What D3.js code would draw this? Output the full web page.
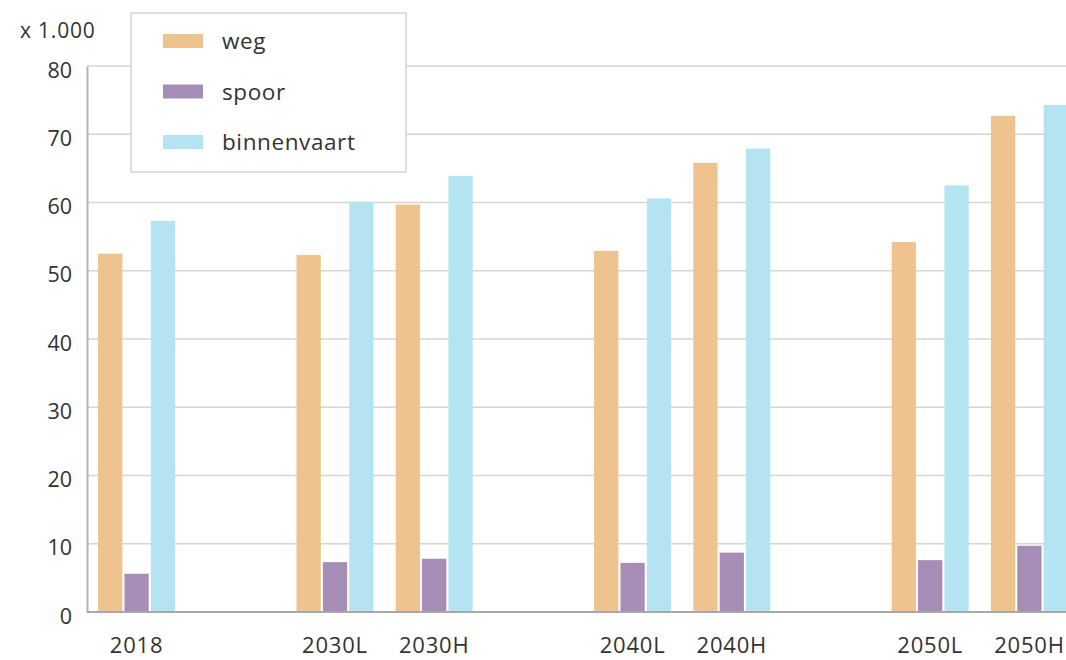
<!DOCTYPE html>
<html>
<head>
<meta charset="utf-8">
<script src="https://cdn.jsdelivr.net/npm/d3@7"></script>
<style>
  html, body { margin: 0; padding: 0; background: #fff; }
  svg { display: block; font-family: "Open Sans", "Noto Sans", sans-serif; }
</style>
</head>
<body>
<svg id="chart" width="1066" height="660"></svg>
<script>
// Slots along the x axis ("" = empty spacer slot)
const slots = ["2018", "", "2030L", "2030H", "", "2040L", "2040H", "", "2050L", "2050H"];
const categories = ["2018", "2030L", "2030H", "2040L", "2040H", "2050L", "2050H"];
const seriesNames = ["weg", "spoor", "binnenvaart"];
const weg = [52.5, 52.3, 59.7, 52.9, 65.8, 54.2, 72.7];
const spoor = [5.6, 7.3, 7.8, 7.2, 8.7, 7.6, 9.7];
const binnenvaart = [57.3, 60.1, 63.9, 60.6, 67.9, 62.5, 74.3];
const yTicks = [0, 10, 20, 30, 40, 50, 60, 70, 80];
const unitLabel = "x 1.000";
const colors = ["#efc38d", "#a68db6", "#b4e4f2"];

const seriesValues = [weg, spoor, binnenvaart];
const svg = d3.select("#chart");

const x = d3.scaleBand().domain(slots.map((s, i) => i)).range([87, 1079]).padding(0);
const inner = d3.scaleBand().domain(seriesNames).range([-38.5, 38.5]).paddingInner(0.08);
const y = d3.scaleLinear().domain([0, 80]).range([612, 66]);

// gridlines
svg.append("g")
  .selectAll("line")
  .data(yTicks.filter(d => d > 0))
  .join("line")
  .attr("x1", 87).attr("x2", 1066)
  .attr("y1", d => y(d)).attr("y2", d => y(d))
  .attr("stroke", "#d6d6d6").attr("stroke-width", 1.5);

// bars
const slotIndex = c => slots.indexOf(c);
categories.forEach((c, ci) => {
  const cx = x(slotIndex(c)) + x.bandwidth() / 2;
  seriesNames.forEach((s, si) => {
    const v = seriesValues[si][ci];
    svg.append("rect")
      .attr("x", cx + inner(s))
      .attr("width", inner.bandwidth())
      .attr("y", y(v))
      .attr("height", y(0) - y(v))
      .attr("fill", colors[si]);
  });
});

// y axis
const yAxis = d3.axisLeft(y).tickValues(yTicks).tickSize(0).tickPadding(15);
const gy = svg.append("g").attr("transform", "translate(87,0)").call(yAxis);
gy.select(".domain").attr("stroke", "#b3b3b3").attr("stroke-width", 2);
gy.selectAll("text").attr("font-size", 21.5).attr("fill", "#333").attr("dy", "0.52em")
  .attr("font-family", "'Open Sans', sans-serif");

// x axis baseline
svg.append("line").attr("x1", 87).attr("x2", 1066).attr("y1", y(0)).attr("y2", y(0))
  .attr("stroke", "#a8a8a8").attr("stroke-width", 2);

// x labels
const xAxis = d3.axisBottom(x).tickSize(0).tickPadding(0).tickFormat(i => slots[i]);
const gx = svg.append("g").attr("transform", `translate(0,${y(0)})`).call(xAxis);
gx.select(".domain").remove();
gx.selectAll("text").attr("font-size", 22).attr("fill", "#333").attr("y", 41).attr("dy", 0)
  .attr("letter-spacing", 0.8)
  .attr("font-family", "'Open Sans', sans-serif");

// unit label
svg.append("text").attr("x", 20).attr("y", 38).attr("font-size", 21).attr("fill", "#333")
  .attr("letter-spacing", 0.8)
  .text(unitLabel);

// legend
const lg = svg.append("g");
lg.append("rect").attr("x", 131).attr("y", 13).attr("width", 275).attr("height", 159)
  .attr("fill", "#fff").attr("stroke", "#d4d4d4").attr("stroke-width", 1.5);
seriesNames.forEach((s, i) => {
  const yy = 41 + i * 50.5;
  lg.append("rect").attr("x", 163).attr("y", yy - 7).attr("width", 40).attr("height", 14)
    .attr("fill", colors[i]);
  lg.append("text").attr("x", 222).attr("y", yy + 8).attr("font-size", 22.5).attr("fill", "#333")
    .attr("letter-spacing", 0.6)
    .text(s);
});
</script>
</body>
</html>
